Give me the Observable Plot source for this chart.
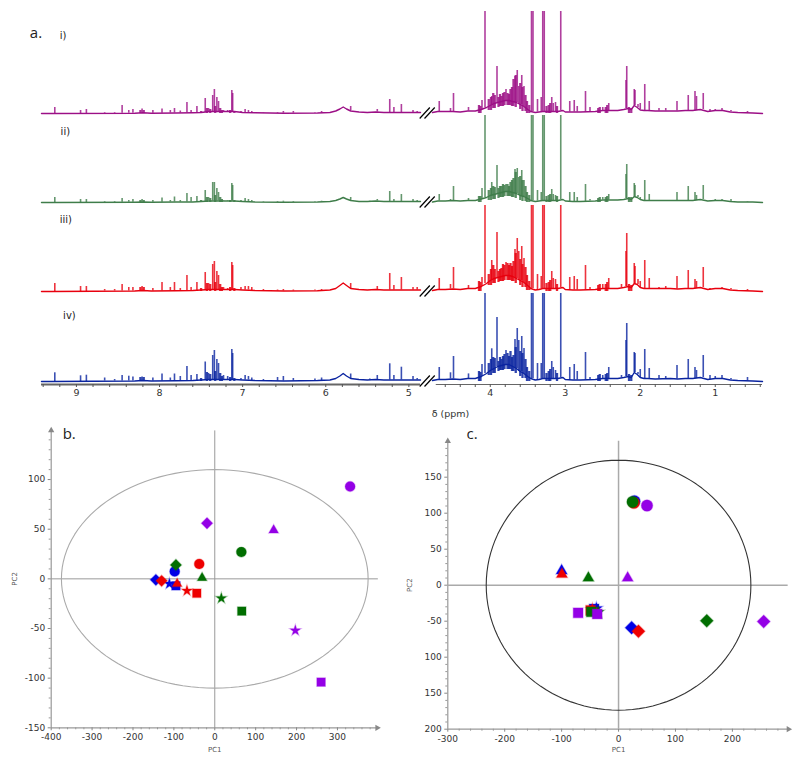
<!DOCTYPE html>
<html>
<head>
<meta charset="utf-8">
<script src="https://cdn.jsdelivr.net/npm/d3@7"></script>
<script src="https://cdn.jsdelivr.net/npm/@observablehq/plot@0.6"></script>
<style>
html,body{margin:0;padding:0;background:#fff;}
#root{width:800px;height:763px;overflow:hidden;}
#row{display:flex;}
svg{display:block;}
</style>
</head>
<body>
<div id="root"><div id="top"></div><div id="row"><div id="b"></div><div id="c"></div></div></div>
<script>
// ---------- Panel a: 1H NMR spectra ----------
const spectrumNames = ["i)", "ii)", "iii)", "iv)"];
const spectrumColors = ["#9c0f86", "#3f7d4a", "#e8000e", "#0a24a0"];
const spectrumOffsets = [268, 179, 90, 0];
const spectrumLabelY = [346, 250, 162, 66];
const spectrumLabelPpm = [9.2, 9.19, 9.2, 9.16];

const peakPpm = [9.26,8.95,8.88,8.66,8.54,8.45,8.37,8.32,8.21,8.08,7.97,7.87,7.82,7.75,7.67,7.62,7.55,7.45,7.41,7.36,7.34,7.31,7.29,7.23,7.18,7.13,7.12,7.02,6.97,6.93,6.89,6.75,6.58,6.51,6.39,6.13,6.05,5.70,5.47,5.38,5.23,5.18,5.09,4.95,4.90,
4.68,4.53,4.49,4.29,4.11,4.07,3.98,3.91,3.79,3.67,3.64,3.62,3.58,3.55,3.45,3.43,3.37,3.32,3.30,3.28,3.18,3.16,3.13,3.06,2.94,2.88,2.84,2.73,2.67,2.50,2.42,2.25,2.19,2.18,2.08,2.07,2.03,2.00,1.94,1.88,1.75,1.66,1.51,1.36,1.27,1.25,1.16,1.07,1.00,0.91,0.79,0.57];
const peaksI = [6,3,4,1,1,8,3,4,4.5,3,4.5,3,5,2.5,11,3,7,15,5,18,24,16,12,3,3,23,20,2,4,3,2,1,1,2,2,1,2,7,1,4,14,6,9,3,2,
12,5,20,6,13,102,17,47,24,37,43,27,38,27,102,102,14,16,102,102,16,10,11,102,12,13,7,22,6,6,10,3,33,47,24,23,9,10,29,12,5,5,12,18,22,17,20,4,4,5,3,2];
const peaksII = [5,3,3,1,1,4,2,3,3,2,4.5,2,5.5,2,9,5,6,12,5,20,20,14,10,2,2,19,17,2,4,3,2,1,1,1.3,1,1,1.3,5,1.3,3,11,3,8,3,2,
8,3,16,4,14,87,20,37,18,33,34,25,32,22,87,87,12,10,87,87,13,8,7,87,10,10,5,18,3,5,8,3,28,38,19,17,7,5,22,8,2,2,10,16,10,7,17,2,3,3,3,1];
const peaksIII = [8,5,5,2,2,7,4,4,5,3,9,4,9,3,16,4,9,19,8,27,30,20,16,4,3,29,26,4,5,5,4,2,1.5,2,1.5,1.5,2,8,1.5,5,18,6,14,4,4,
13,7,24,6,14,86,31,59,29,42,53,40,45,33,86,86,17,15,86,86,20,13,12,86,14,15,12,26,4,7,13,7,40,58,28,25,12,10,31,13,4,5,15,21,12,10,24,3,3,4,3,2];
const peaksIV = [8.7,5.7,6.3,3.5,2,6,5.3,4.5,4.5,3.5,7.5,3.5,7.5,5,15,6,7,19.5,8,26,31,22,18,6,5,32,28,3,6,5,3.5,2,4,5,3,2.5,3.5,7.5,2.5,6,17.7,6,14.3,5,3,
14,8.7,25,7.6,17,88,32.7,64,31,42,53,41,45,33,88,88,18,18,88,88,20,14,11,88,14,17,10,29,4,6,14,6,41,58,29,28,9,12,32,13,6,5,16,22,14,11,26,6,5,6,3,4];

const finePpm = [4.15,4.13,4.02,3.99,3.96,3.94,3.89,3.87,3.85,3.83,3.81,3.77,3.75,3.73,3.71,3.69,3.66,3.60,3.57,3.53,3.51,3.48,3.25,3.22,3.20,3.11,2.56,2.54,2.46,2.44,2.15,2.12,8.23,8.19,7.50,7.43,7.39,7.33,7.27,7.25,7.15,7.10];
const fineI = [8,7,14,16,20,18,16,19,17,20,21,20,19,24,26,34,38,30,26,18,12,8,7,8,10,7,5,6,6,8,6,5,3,3,2,5,4,7,5,3,3,2];
const fineII = [6,6,12,14,16,15,14,16,16,18,17,18,16,20,22,24,30,26,22,16,10,7,6,7,8,6,4,5,5,6,5,5,2,2,2,5,4,7,5,3,2,2];
const fineIII = [10,9,17,22,26,22,20,22,23,27,26,28,26,28,25,30,38,32,27,24,16,10,8,9,11,7,6,7,7,9,7,6,4,4,3,8,7,9,7,4,4,3];
const fineIV = [10,9,18,22,24,23,20,24,22,25,27,28,25,30,24,26,34,30,28,22,14,10,8,10,12,8,6,7,7,8,7,6,4,4,3,9,7,10,8,5,4,3];

const envPpm = [9.42,9.3,8.3,8.2,8.1,7.8,7.6,7.5,7.4,7.3,7.1,7.0,6.85,6.5,6.1,5.95,5.88,5.83,5.79,5.75,5.7,5.6,5.5,5.4,5.3,5.1,4.86,
4.77,4.7,4.6,4.5,4.4,4.3,4.2,4.12,4.05,4.0,3.95,3.9,3.85,3.8,3.75,3.7,3.65,3.6,3.55,3.5,3.46,3.4,3.35,3.3,3.25,3.2,3.1,3.03,3.0,2.9,2.8,2.6,2.5,2.3,2.22,2.16,2.12,2.08,2.04,2.0,1.95,1.9,1.8,1.6,1.5,1.4,1.3,1.2,1.1,1.0,0.9,0.8,0.7,0.5,0.37];
const envI = [0,0,.3,.7,.3,.5,.8,1,2,2,2,1,.7,.3,.5,1,2.5,4.5,6.5,4.5,2.5,1.5,1,1.5,1,1,1,
1,2,2,2,1.5,2.5,2.5,4,6,8,10,11,12,13,13,12,11,9,7,4,2,1,1.5,2,2,2,2,3,1.5,1.5,1.5,2,3,3,4,5,4,8,6,3.5,3,3,2.5,2.5,2.5,3,3,4,2,3,3,1.5,1,.5,0];
const envII = [0,0,.3,.5,.3,.5,.5,1,1.5,1.5,1.5,1,.5,.3,.5,1,2,3.5,5,3.5,2,1,1,1.5,1,1,1,
.5,1.5,1.5,2,1.5,2,2,3.5,5,7,8,9,10,11,11,10,9,7,6,4,2,1,1.5,2,2,2,2,3,1.5,1,1,1.5,2.5,2.5,3,4,3,6,5,3,2,2,2,2,2,2,2,3,1.5,2,2,1,.5,.5,0];
const envIII = [0,0,.5,1,.5,.8,1,1.5,2,2,2,1.5,1,.5,.8,1.5,3,6,8.5,6,3,2,1.5,2,1.5,1.5,1.5,
1,2,2,2.5,2,3,3,5,8,11,13,14,15,16,16,15,13,11,9,6,3,1.5,2,3,3,3,3,4,2,1.5,1.5,2,3,3,4,5,4,8,7,4,3,3,3,3,2.5,3,3,4,2,3,3,1.5,1,.5,0];
const envIV = [0,0,.5,1,.5,.8,1,1.5,2,2,2,1.5,1,.5,1,1.5,3,5.5,8,5.5,3,2,1.5,2,1.5,1.5,1.5,
1,2,2,2.5,2,3,3,5,8,11,13,15,16,17,17,15,13,10,8,5,3,1.5,2,3,3,3,3,4,2,1.5,1.5,2,3,3,4,5,4,9,7,4,3,3,2.5,3,2.5,3,3,4,2,3,3,1.5,1,.5,0];

const axisLeftPpm = [9.42, 4.86];
const axisRightPpm = [4.72, 0.37];
const minorPpm = [9.4,9.2,9,8.8,8.6,8.4,8.2,8,7.8,7.6,7.4,7.2,7,6.8,6.6,6.4,6.2,6,5.8,5.6,5.4,5.2,5,4.6,4.4,4.2,4,3.8,3.6,3.4,3.2,3,2.8,2.6,2.4,2.2,2,1.8,1.6,1.4,1.2,1,0.8,0.6,0.4];
const labelPpm = [9,8,7,6,5,4,3,2,1];
const breakFrom = [4.87, 4.83];
const breakTo = [4.79, 4.74];

const envs = [envI, envII, envIII, envIV];
const peaks = [peaksI, peaksII, peaksIII, peaksIV];
const fines = [fineI, fineII, fineIII, fineIV];

const nearestEnv = (env, p) => env[d3.leastIndex(envPpm, (a, b) => Math.abs(a - p) - Math.abs(b - p))];

const spectrumMarks = spectrumNames.flatMap((name, s) => {
  const off = spectrumOffsets[s], color = spectrumColors[s], env = envs[s];
  const line = envPpm.map((p, i) => ({p, v: off + env[i], side: p > 4.8 ? "L" : "R"}));
  const pk = peakPpm.map((p, i) => ({p, v1: off + Math.min(peaks[s][i], nearestEnv(env, p)), v2: off + peaks[s][i]}));
  const fn = finePpm.map((p, i) => ({p, v1: off + Math.max(0, nearestEnv(env, p) - 5), v2: off + fines[s][i]}));
  return [
    Plot.ruleX(fn, {x: "p", y1: "v1", y2: "v2", stroke: color, strokeWidth: 2.3, strokeOpacity: 0.85}),
    Plot.line(line, {x: "p", y: "v", z: "side", stroke: color, strokeWidth: 1.4, curve: "linear"}),
    Plot.ruleX(pk, {x: "p", y1: "v1", y2: "v2", stroke: color, strokeWidth: 1.6, strokeOpacity: 0.8}),
    Plot.link(breakFrom.map((f, i) => ({f, t: breakTo[i]})), {x1: "f", x2: "t", y1: off - 5, y2: off + 6, stroke: "#000", strokeWidth: 1.2}),
    Plot.text([name], {x: spectrumLabelPpm[s], y: spectrumLabelY[s], text: d => d, textAnchor: "start", fontSize: 10, fill: "#222", fontFamily: "DejaVu Sans"})
  ];
});

const topPlot = Plot.plot({
  width: 800, height: 420,
  marginTop: 0, marginRight: 0, marginBottom: 0, marginLeft: 0,
  x: {type: "linear", domain: [9.42, 4.86, 4.77, 0.37], range: [41, 420, 432, 762], axis: null},
  y: {domain: [0, 381], range: [381, 0], axis: null},
  style: {background: "white", fontFamily: "DejaVu Sans"},
  marks: [
    ...spectrumMarks,
    Plot.ruleY([-3], {x1: axisLeftPpm[0], x2: axisLeftPpm[1], stroke: "#666", strokeWidth: 2}),
    Plot.ruleY([-3], {x1: axisRightPpm[0], x2: axisRightPpm[1], stroke: "#666", strokeWidth: 1}),
    Plot.ruleX(minorPpm, {y1: -3, y2: -6, stroke: "#555", strokeWidth: 1}),
    Plot.text(labelPpm, {x: d => d, y: -11.5, text: d => String(d), fontSize: 9.5, fill: "#333"}),
    Plot.text(["δ (ppm)"], {x: 4.53, y: -32, text: d => d, fontSize: 9.5, fill: "#333"}),
    Plot.text(["a."], {x: 9.56, y: 348, text: d => d, textAnchor: "start", fontSize: 15, fill: "#222", fontFamily: "Open Sans"})
  ]
});
document.getElementById("top").append(topPlot);

// ---------- Shared score-plot encodings ----------
const groupNames = ["blue", "red", "green", "purple"];
const groupColors = ["#0000e6", "#ee0000", "#006e00", "#9400e6"];
const shapeNames = ["circle", "diamond", "triangle", "star", "square"];
const shapeSymbols = ["circle", "diamond2", "triangle", "star", "square"];
const shapeRadii = [5, 5.1, 3.6, 3.4, 4.8];

// ---------- Panel b ----------
const bGroup = ["blue","blue","blue","blue","red","red","red","red","red","green","green","green","green","green","purple","purple","purple","purple","purple"];
const bShape = ["circle","diamond","star","square","circle","diamond","triangle","star","square","circle","diamond","triangle","star","square","circle","diamond","triangle","star","square"];
const bPC1 = [-98,-144,-111,-95,-38,-130,-92,-68,-44,65,-95,-31,16,66,331,-19,144,197,260];
const bPC2 = [7.5,-1,-5,-7,15,-2,-5,-12,-14.5,27,14,1,-19.5,-32.5,93,56,49,-52,-104];
const bXTicks = [-400,-300,-200,-100,0,100,200,300];
const bXMinor = [-380,-360,-340,-320,-280,-260,-240,-220,-180,-160,-140,-120,-80,-60,-40,-20,20,40,60,80,120,140,160,180,220,240,260,280,320,340,360,380];
const bYTicks = [-150,-100,-50,0,50,100];
const bYMinor = [-140,-130,-120,-110,-90,-80,-70,-60,-40,-30,-20,-10,10,20,30,40,60,70,80,90,110,120,130,140];
const bEllipse = [375, 110];

// ---------- Panel c ----------
const cGroup = ["blue","blue","blue","blue","blue","red","red","red","red","red","green","green","green","green","green","purple","purple","purple","purple","purple"];
const cShape = ["circle","diamond","triangle","star","square","circle","diamond","triangle","star","square","circle","diamond","triangle","star","square","circle","diamond","triangle","square","square"];
const cPC1 = [28,23,-100,-39,-43,27,35,-99.5,-46,-49,24.6,155,-53,-36,-48,50,255,16,-71,-37.5];
const cPC2 = [116.6,-59,20,-32.4,-33,114.4,-64,15,-34,-35,115.7,-49.5,10,-37.5,-37,110.6,-50.5,10,-38.4,-40];
const cXTicks = [-300,-200,-100,0,100,200];
const cXMinor = [-280,-260,-240,-220,-180,-160,-140,-120,-80,-60,-40,-20,20,40,60,80,120,140,160,180,220,240,260,280];
const cYTicks = [-200,-150,-100,-50,0,50,100,150];
const cYLabels = ["200","150","100","-50","0","50","100","150"];
const cYMinor = [-190,-180,-170,-160,-140,-130,-120,-110,-90,-80,-70,-60,-40,-30,-20,-10,10,20,30,40,60,70,80,90,110,120,130,140,160,170,180,190];
const cEllipse = [232.5, 173.6];

const angles = d3.range(0, 361, 3);

function scorePlot(o) {
  const rows = o.pc1.map((x, i) => {
    const k = shapeNames.indexOf(o.shape[i]);
    return {x, y: o.pc2[i], color: groupColors[groupNames.indexOf(o.group[i])], symbol: shapeSymbols[k], r: shapeRadii[k] * o.scale};
  });
  const ell = angles.map(a => ({x: o.ellipse[0] * Math.cos(a * Math.PI / 180), y: o.ellipse[1] * Math.sin(a * Math.PI / 180)}));
  const [x0, x1] = o.xDomain, [y0, y1] = o.yDomain;
  return Plot.plot({
    width: o.width, height: 343,
    marginTop: o.margins[0], marginRight: o.margins[1], marginBottom: o.margins[2], marginLeft: o.margins[3],
    x: {domain: o.xDomain},
    y: {domain: o.yDomain},
    r: {type: "identity"},
    style: {background: "white", fontFamily: "DejaVu Sans", fontSize: "9px", overflow: "visible"},
    marks: [
      Plot.ruleY([y0], {stroke: "#999", strokeWidth: 1.2}),
      Plot.ruleX([x0], {stroke: "#999", strokeWidth: 1.2}),
      Plot.axisX({ticks: o.xMinor, text: null, tickSize: 2, stroke: "#999", label: null}),
      Plot.axisY({ticks: o.yMinor, text: null, tickSize: 2, stroke: "#999", label: null}),
      Plot.axisX({ticks: o.xTicks, tickSize: 3, tickPadding: 3, tickFormat: d => String(d), stroke: "#888", fill: "#333", label: null}),
      Plot.axisY({ticks: o.yTicks, tickSize: 3, tickPadding: 3, tickFormat: o.yFormat, stroke: "#888", fill: "#333", label: null}),
      Plot.ruleX([0], {y1: y0, y2: o.crossTop, stroke: o.crossColor, strokeWidth: o.crossWidth}),
      Plot.ruleY([0], {x1: x0, x2: o.crossRight, stroke: o.crossColor, strokeWidth: o.crossWidth}),
      Plot.line(ell, {x: "x", y: "y", stroke: o.ellipseColor, strokeWidth: o.ellipseWidth, curve: "linear"}),
      Plot.dot([{x: x1, y: y0}], {x: "x", y: "y", symbol: "triangle2", r: 3, rotate: 90, fill: "#888"}),
      Plot.dot([{x: x0, y: y1}], {x: "x", y: "y", symbol: "triangle2", r: 3, fill: "#888"}),
      Plot.dot(rows, {x: "x", y: "y", symbol: "symbol", fill: "color", stroke: "color", strokeOpacity: 0.3, strokeWidth: 1.3, r: "r", sort: null}),
      Plot.text(["PC1"], {x: 0, y: o.pc1LabelY, text: d => d, fontSize: 7, fill: "#555"}),
      Plot.text(["PC2"], {x: o.pc2LabelX, y: 0, text: d => d, fontSize: 7, fill: "#555", rotate: -90}),
      Plot.text([o.name], {x: o.nameXY[0], y: o.nameXY[1], text: d => d, textAnchor: "start", fontSize: 15, fill: "#222", fontFamily: "Open Sans"})
    ]
  });
}

document.getElementById("b").append(scorePlot({
  name: "b.", nameXY: [-372, 146], width: 405, margins: [10, 28.3, 35.7, 50.7],
  xDomain: [-400, 397.2], yDomain: [-150, 149.4],
  pc1: bPC1, pc2: bPC2, group: bGroup, shape: bShape,
  xTicks: bXTicks, xMinor: bXMinor, yTicks: bYTicks, yMinor: bYMinor, yFormat: d => String(d),
  ellipse: bEllipse, ellipseColor: "#aaa", ellipseWidth: 1.1,
  crossTop: 149, crossRight: 400, crossColor: "#999", crossWidth: 1,
  pc1LabelY: -172, pc2LabelX: -489, scale: 1
}));

document.getElementById("c").append(scorePlot({
  name: "c.", nameXY: [-267, 210], width: 395, margins: [20.7, 12, 34.3, 42.3],
  xDomain: [-300, 298.6], yDomain: [-200, 200],
  pc1: cPC1, pc2: cPC2, group: cGroup, shape: cShape,
  xTicks: cXTicks, xMinor: cXMinor, yTicks: cYTicks, yMinor: cYMinor, yFormat: d => cYLabels[cYTicks.indexOf(d)],
  ellipse: cEllipse, ellipseColor: "#333", ellipseWidth: 1.1,
  crossTop: 200, crossRight: 298, crossColor: "#aaa", crossWidth: 1.5,
  pc1LabelY: -229, pc2LabelX: -367, scale: 1.15
}));
</script>
</body>
</html>
